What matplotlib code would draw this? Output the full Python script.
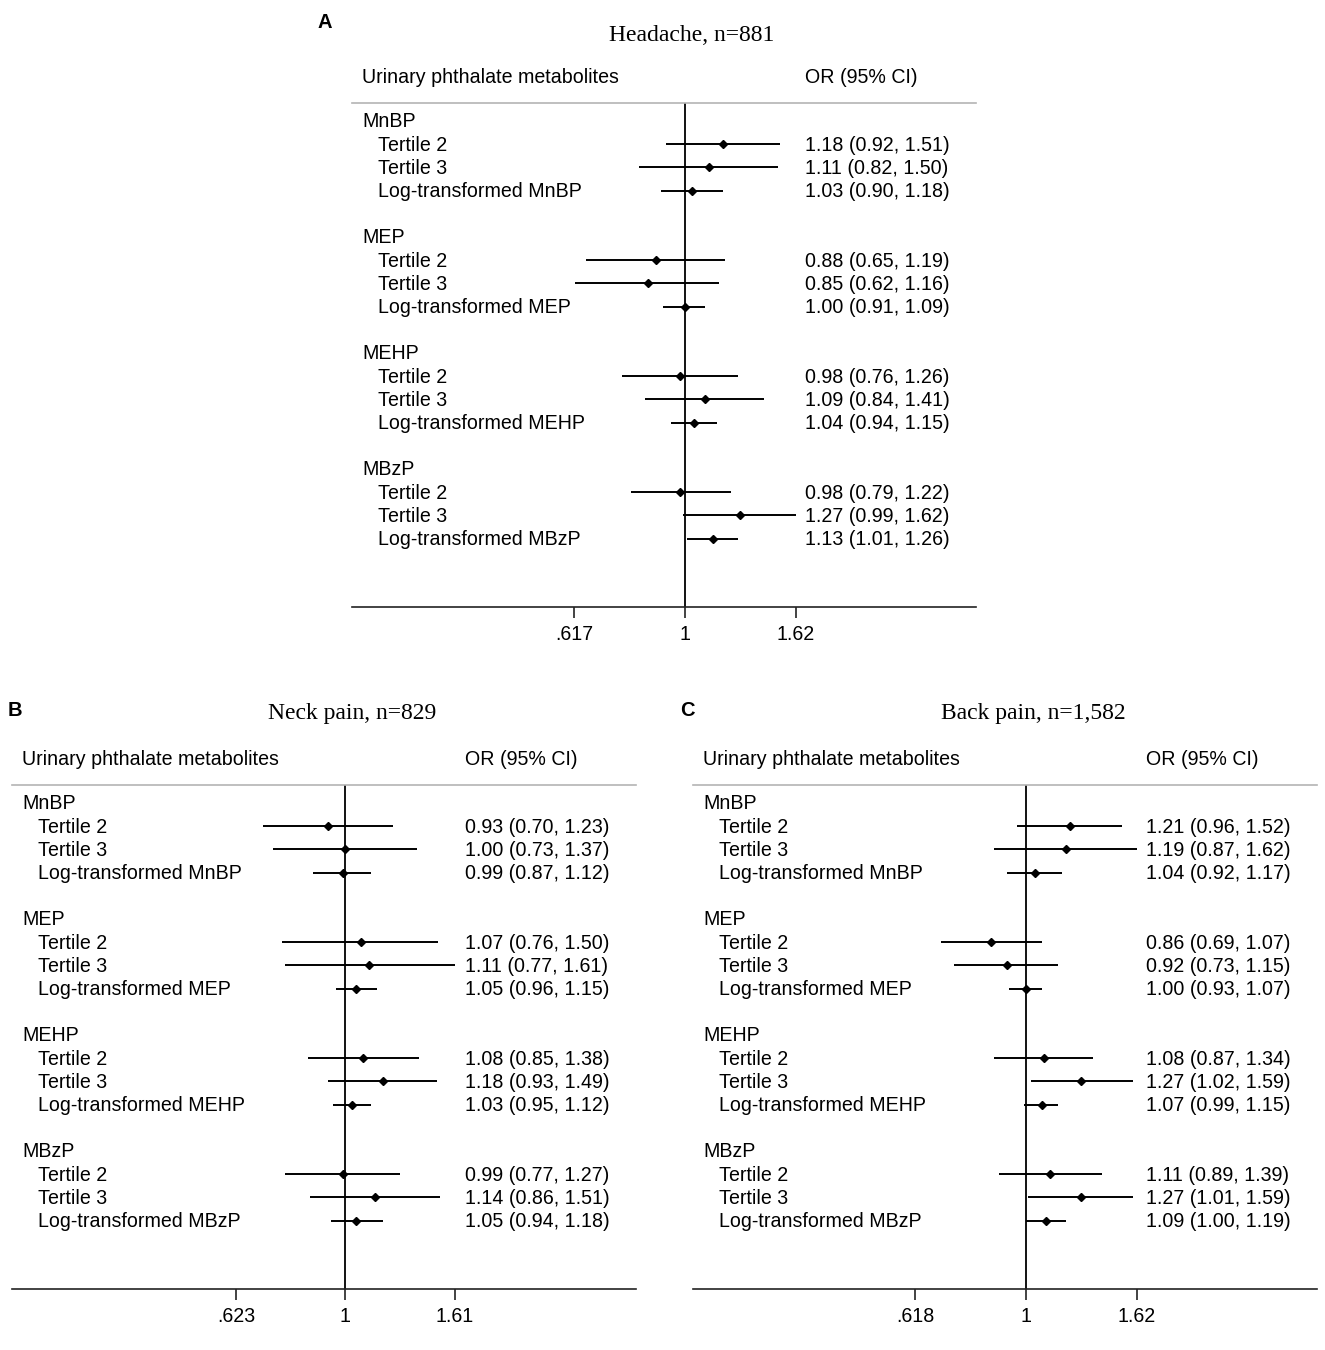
import matplotlib.pyplot as plt
import numpy as np
from matplotlib.transforms import blended_transform_factory

# ------------------------------
# data
groups = ["MnBP", "MEP", "MEHP", "MBzP"]
items = ["Tertile 2", "Tertile 3", "Log-transformed"]

headache_or = [1.18, 1.11, 1.03, 0.88, 0.85, 1.00, 0.98, 1.09, 1.04, 0.98, 1.27, 1.13]
headache_lo = [0.92, 0.82, 0.90, 0.65, 0.62, 0.91, 0.76, 0.84, 0.94, 0.79, 0.99, 1.01]
headache_hi = [1.51, 1.50, 1.18, 1.19, 1.16, 1.09, 1.26, 1.41, 1.15, 1.22, 1.62, 1.26]

neck_or = [0.93, 1.00, 0.99, 1.07, 1.11, 1.05, 1.08, 1.18, 1.03, 0.99, 1.14, 1.05]
neck_lo = [0.70, 0.73, 0.87, 0.76, 0.77, 0.96, 0.85, 0.93, 0.95, 0.77, 0.86, 0.94]
neck_hi = [1.23, 1.37, 1.12, 1.50, 1.61, 1.15, 1.38, 1.49, 1.12, 1.27, 1.51, 1.18]

back_or = [1.21, 1.19, 1.04, 0.86, 0.92, 1.00, 1.08, 1.27, 1.07, 1.11, 1.27, 1.09]
back_lo = [0.96, 0.87, 0.92, 0.69, 0.73, 0.93, 0.87, 1.02, 0.99, 0.89, 1.01, 1.00]
back_hi = [1.52, 1.62, 1.17, 1.07, 1.15, 1.07, 1.34, 1.59, 1.15, 1.39, 1.59, 1.19]

headache_ticks = [0.617, 1, 1.62]
headache_ticklabels = [".617", "1", "1.62"]
neck_ticks = [0.623, 1, 1.61]
neck_ticklabels = [".623", "1", "1.61"]
back_ticks = [0.618, 1, 1.62]
back_ticklabels = [".618", "1", "1.62"]

W, H = 1325, 1350
sans = "Liberation Sans"
serif = "Liberation Serif"
fs = 14.1


def forest(left_px, top_px, title, ors, los, his, ticks, ticklabels,
           title_row=-3.75):
    width_px, height_px = 624, 504
    ax = fig.add_axes([left_px / W, 1 - (top_px + height_px) / H,
                       width_px / W, height_px / H])
    ax.set_xscale("log")
    ax.set_xlim(np.exp(-333 / 230), np.exp(291 / 230))
    ax.set_ylim(20.95, -0.78)
    for s in ["left", "right"]:
        ax.spines[s].set_visible(False)
    ax.spines["top"].set_color("#b4b4b4")
    ax.spines["top"].set_linewidth(1.2)
    ax.spines["bottom"].set_color("#222222")
    ax.spines["bottom"].set_linewidth(1.2)
    ax.set_yticks([])
    ax.minorticks_off()
    ax.set_xticks(ticks)
    ax.set_xticklabels(ticklabels, fontsize=fs, family=sans)
    ax.tick_params(axis="x", length=8, width=1.2, color="#222222", pad=5)
    ax.axvline(1, color="black", lw=1.3, zorder=1)

    tr = blended_transform_factory(ax.transAxes, ax.transData)
    # header row
    ax.text(10 / 624, -1.95, "Urinary phthalate metabolites", transform=tr,
            fontsize=fs, family=sans, va="center_baseline", clip_on=False)
    ax.text(453 / 624, -1.95, "OR (95% CI)", transform=tr,
            fontsize=fs, family=sans, va="center_baseline", clip_on=False)
    ax.text(340 / 624, title_row, title, transform=tr, fontsize=17,
            family=serif, ha="center", va="center", clip_on=False)

    k = 0
    for g, grp in enumerate(groups):
        row = g * 5
        ax.text(10 / 624, row - 0.05, grp, transform=tr, fontsize=fs,
                family=sans, va="center_baseline")
        for j, it in enumerate(items):
            r = row + 1 + j
            label = it if j < 2 else f"{it} {grp}"
            ax.text(26 / 624, r - 0.05, label, transform=tr, fontsize=fs,
                    family=sans, va="center_baseline")
            ax.plot([los[k], his[k]], [r, r], color="black", lw=1.4,
                    solid_capstyle="butt", zorder=2)
            ax.plot(ors[k], r, marker="D", color="black", ms=4.5, zorder=3)
            ax.text(453 / 624, r - 0.05,
                    f"{ors[k]:.2f} ({los[k]:.2f}, {his[k]:.2f})",
                    transform=tr, fontsize=fs, family=sans,
                    va="center_baseline")
            k += 1
    return ax


fig = plt.figure(figsize=(W / 100, H / 100), dpi=100)

forest(352, 103, "Headache, n=881", headache_or, headache_lo, headache_hi,
       headache_ticks, headache_ticklabels, title_row=-3.7)
forest(12, 785, "Neck pain, n=829", neck_or, neck_lo, neck_hi,
       neck_ticks, neck_ticklabels, title_row=-3.88)
forest(693, 785, "Back pain, n=1,582", back_or, back_lo, back_hi,
       back_ticks, back_ticklabels, title_row=-3.88)

for letter, x, y in [("A", 325, 23), ("B", 15, 711), ("C", 687, 711)]:
    fig.text(x / W, 1 - y / H, letter, fontsize=14.5, fontweight="bold",
             family=sans, ha="center", va="center")

fig.savefig("out.png", dpi=100)
